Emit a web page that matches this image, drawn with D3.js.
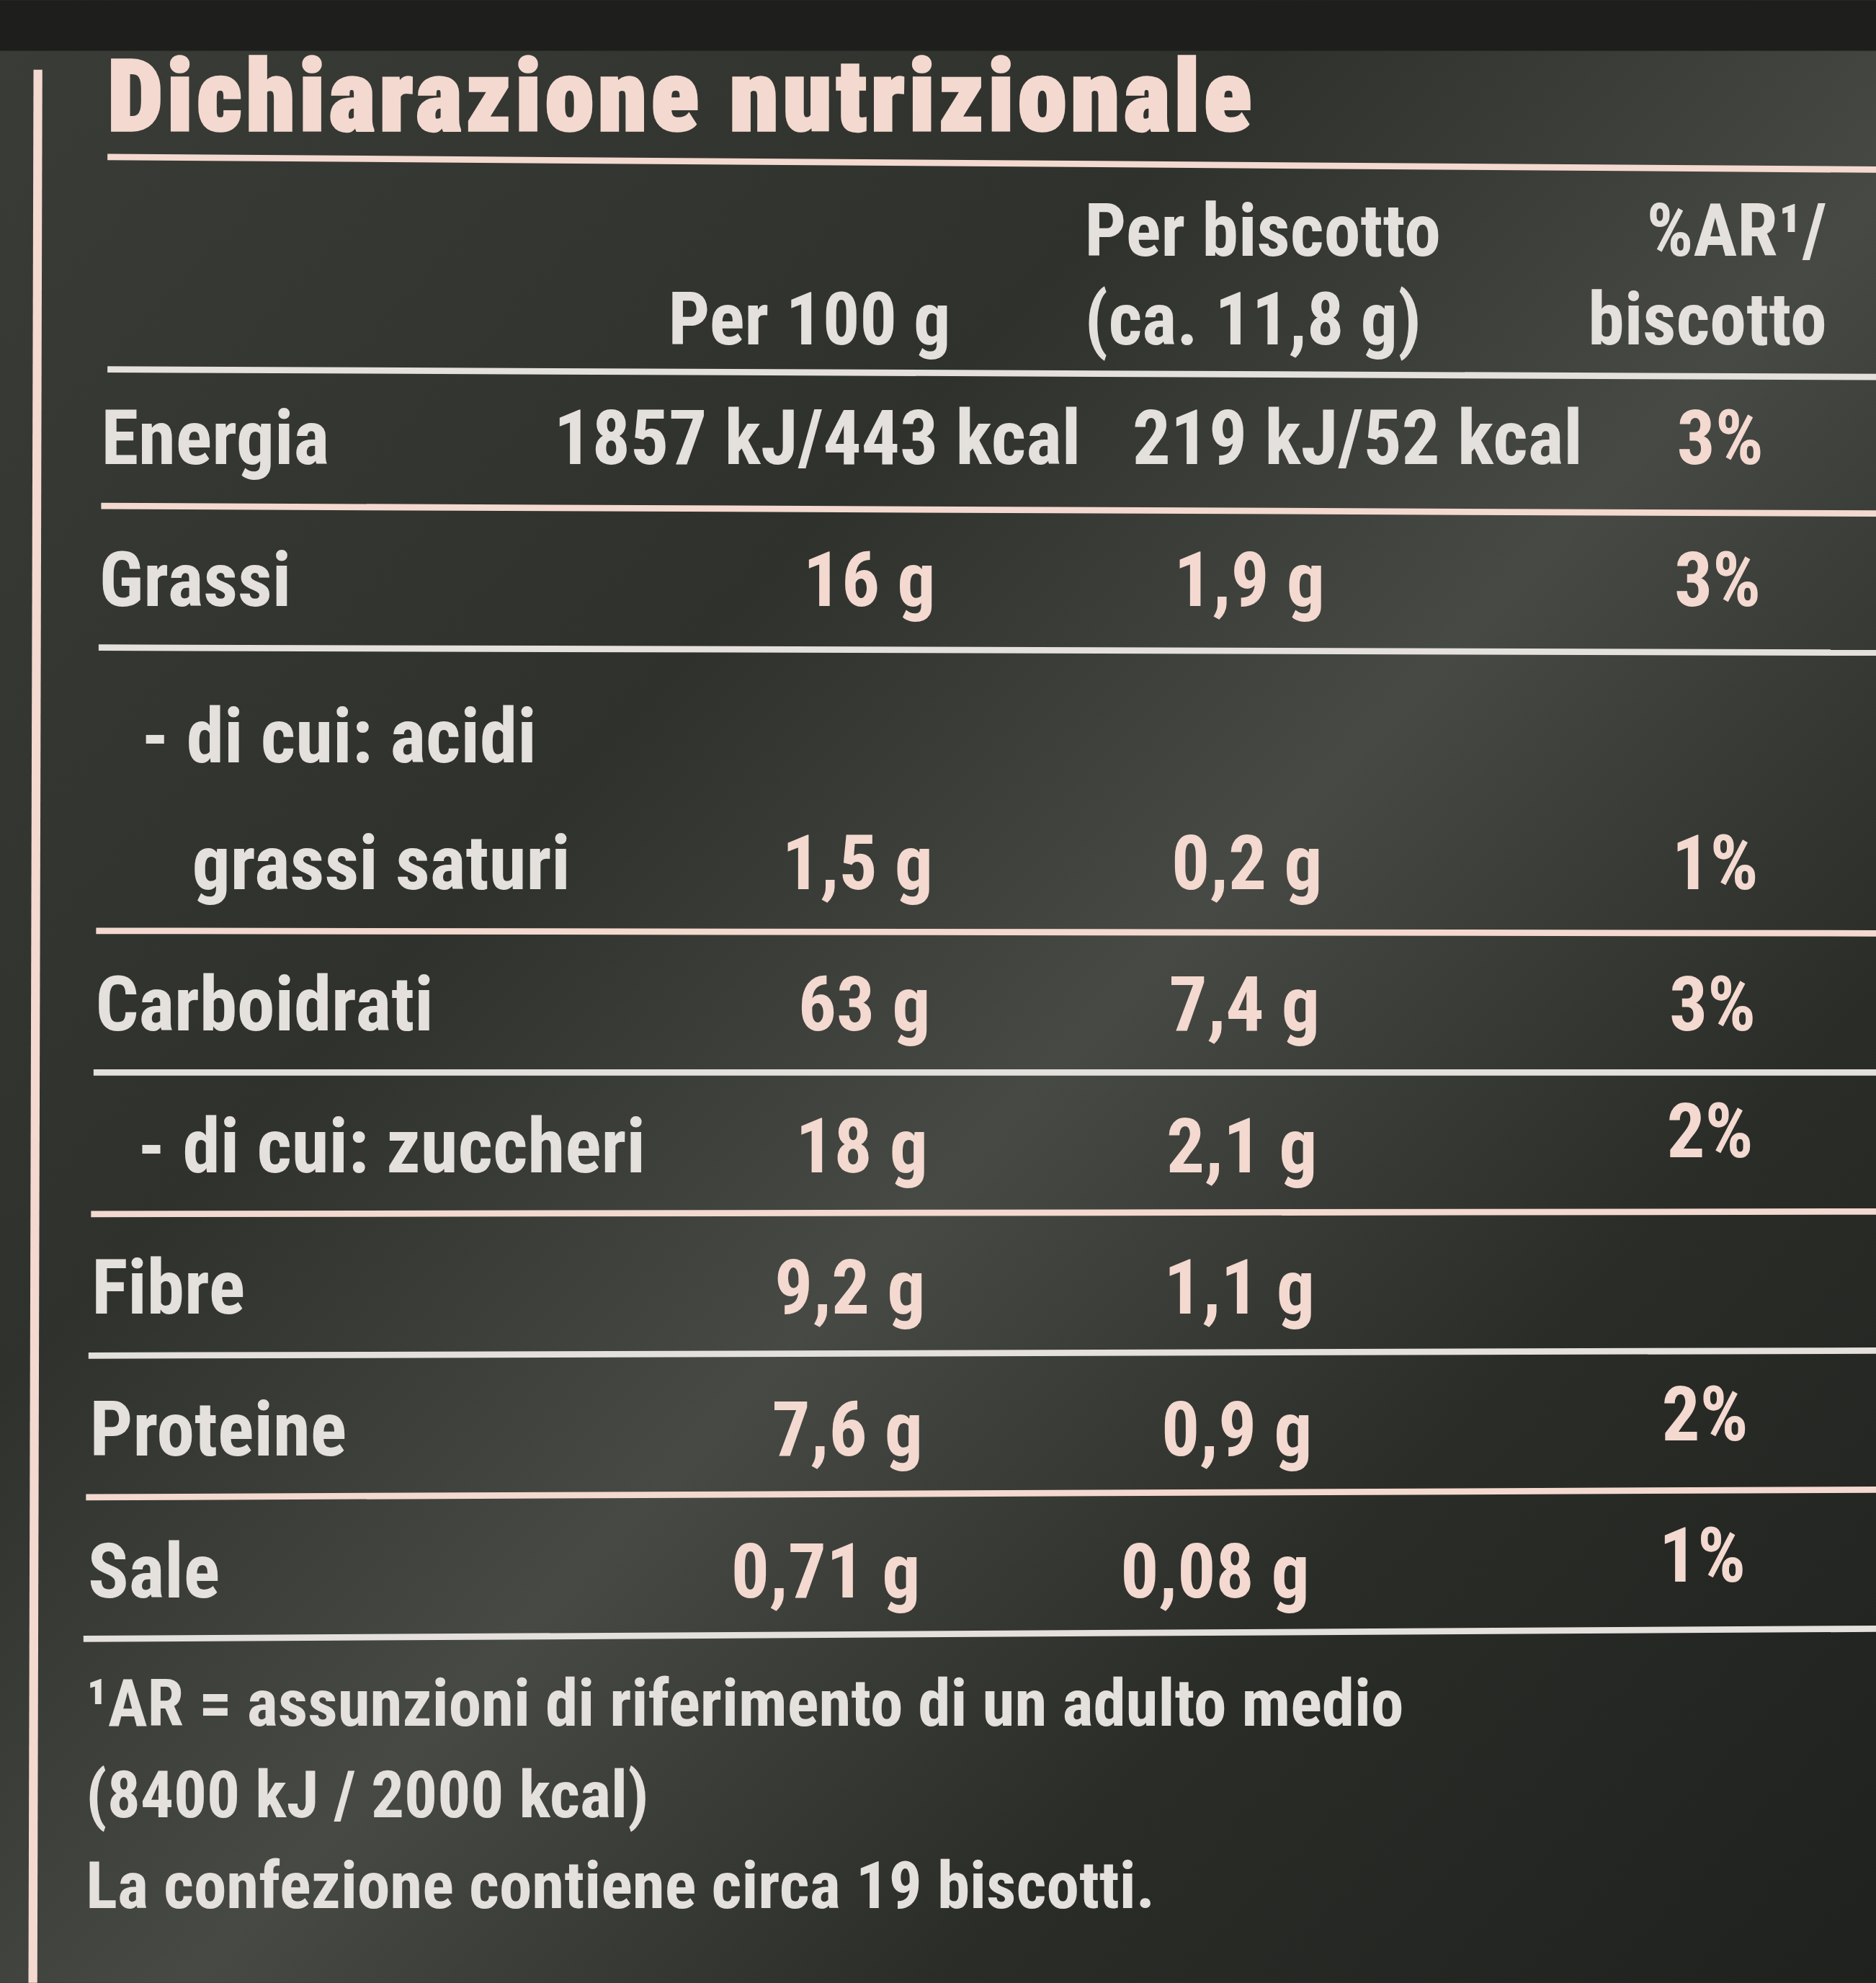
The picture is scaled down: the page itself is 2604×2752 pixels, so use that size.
<!DOCTYPE html>
<html><head><meta charset="utf-8">
<script src="https://cdn.jsdelivr.net/npm/d3@7"></script>
<style>body{margin:0;background:#2d2f2b}</style>
</head><body>
<div id="viz-container"></div>
<script>
// table data
let labels = ["Energia", "Grassi", "- di cui: acidi|grassi saturi", "Carboidrati", "- di cui: zuccheri", "Fibre", "Proteine", "Sale"];
let per100 = ["1857 kJ/443 kcal", "16 g", "1,5 g", "63 g", "18 g", "9,2 g", "7,6 g", "0,71 g"];
let perBiscotto = ["219 kJ/52 kcal", "1,9 g", "0,2 g", "7,4 g", "2,1 g", "1,1 g", "0,9 g", "0,08 g"];
let arPct = ["3%", "3%", "1%", "3%", "2%", "", "2%", "1%"];
let rowSpan = [1, 1, 2, 1, 1, 1, 1, 1];
let headers = [["", "Per 100 g"], ["Per biscotto", "(ca. 11,8 g)"], ["%AR¹/", "biscotto"]];
let footnotes = ["¹AR = assunzioni di riferimento di un adulto medio", "(8400 kJ / 2000 kcal)", "La confezione contiene circa 19 biscotti."];

let font = "'Liberation Sans Narrow','Roboto Condensed','DejaVu Sans Condensed',Roboto,sans-serif";
let light = "#e4e0dc", pink = "#f3d9cf";

let viz = d3.select("#viz-container").append("svg")
  .attr("width", 2604).attr("height", 2752)
  .attr("viewBox", "0 0 1484 1568");

// background with soft sheen
let defs = viz.append("defs");
let g1 = defs.append("linearGradient").attr("id", "bg").attr("x1", 0).attr("y1", 0).attr("x2", 1).attr("y2", 1);
[["0", "#3a3c37"], ["0.35", "#2f312d"], ["0.55", "#474944"], ["0.75", "#2a2c28"], ["1", "#1f211e"]]
  .forEach(s => g1.append("stop").attr("offset", s[0]).attr("stop-color", s[1]));
viz.append("rect").attr("width", 1484).attr("height", 1568).attr("fill", "url(#bg)");
viz.append("rect").attr("width", 1484).attr("height", 40).attr("fill", "#1e1f1c");

// left rule
viz.append("line").attr("x1", 30).attr("x2", 26).attr("y1", 55).attr("y2", 1568)
  .attr("stroke", pink).attr("stroke-width", 7);

// title
viz.append("text").attr("x", 85).attr("y", 103).text("Dichiarazione nutrizionale")
  .attr("font-family", font).attr("font-weight", "900").attr("font-size", 78)
  .attr("fill", pink).attr("stroke", pink).attr("stroke-width", 2).attr("textLength", 905);
viz.append("line").attr("x1", 85).attr("x2", 1484).attr("y1", 124).attr("y2", 134)
  .attr("stroke", pink).attr("stroke-width", 5);

// columns
let colX = {label: 80, c1: 742, c2: 1050, c3: 1395};
let unit = 112;  // one row height
let y = d3.scaleLinear().domain([0, 1]).range([290, 290 + unit]);

// header
let hx = [[752, "end"], [858, "start"], [1445, "end"]];
headers.forEach((h, i) => {
  h.forEach((t, j) => {
    viz.append("text").attr("x", hx[i][0]).attr("y", 202 + j * 70).text(t)
      .attr("text-anchor", hx[i][1]).attr("font-family", font).attr("font-weight", "bold")
      .attr("font-size", 58).attr("fill", light);
  });
});
viz.append("line").attr("x1", 85).attr("x2", 1484).attr("y1", 292).attr("y2", 298)
  .attr("stroke", light).attr("stroke-width", 5);

let start = 0;
labels.forEach((lab, i) => {
  let span = rowSpan[i];
  let bottom = y(start + span);
  let base = bottom - 35;
  let parts = lab.split("|");
  let indent = lab.startsWith("-") ? 35 : 0;
  parts.forEach((p, j) => {
    viz.append("text").attr("x", colX.label + indent + (j > 0 ? 40 : 0) - i * 1.5)
      .attr("y", base - (parts.length - 1 - j) * 100).text(p)
      .attr("font-family", font).attr("font-weight", "bold").attr("font-size", 60).attr("fill", light);
  });
  let e = i === 0;
  viz.append("text").attr("x", e ? 855 : colX.c1 - i * 2).attr("y", base).text(per100[i])
    .attr("text-anchor", "end").attr("font-family", font).attr("font-weight", "bold")
    .attr("font-size", 60).attr("fill", e ? light : pink);
  viz.append("text").attr("x", e ? 1252 : colX.c2 - i * 2).attr("y", base).text(perBiscotto[i])
    .attr("text-anchor", "end").attr("font-family", font).attr("font-weight", "bold")
    .attr("font-size", 60).attr("fill", e ? light : pink);
  viz.append("text").attr("x", colX.c3 - i * 2).attr("y", base - (i > 3 ? 12 : 0)).text(arPct[i])
    .attr("text-anchor", "end").attr("font-family", font).attr("font-weight", "bold")
    .attr("font-size", 60).attr("fill", pink);
  viz.append("line").attr("x1", 80 - i * 2).attr("x2", 1484).attr("y1", bottom - 2).attr("y2", bottom + 4 - i * 2)
    .attr("stroke", i % 2 ? light : pink).attr("stroke-width", 5);
  start += span;
});

footnotes.forEach((t, i) => {
  viz.append("text").attr("x", 68).attr("y", 1365 + i * 72).text(t)
    .attr("font-family", font).attr("font-weight", "bold").attr("font-size", 52).attr("fill", light);
});
</script>
</body></html>
